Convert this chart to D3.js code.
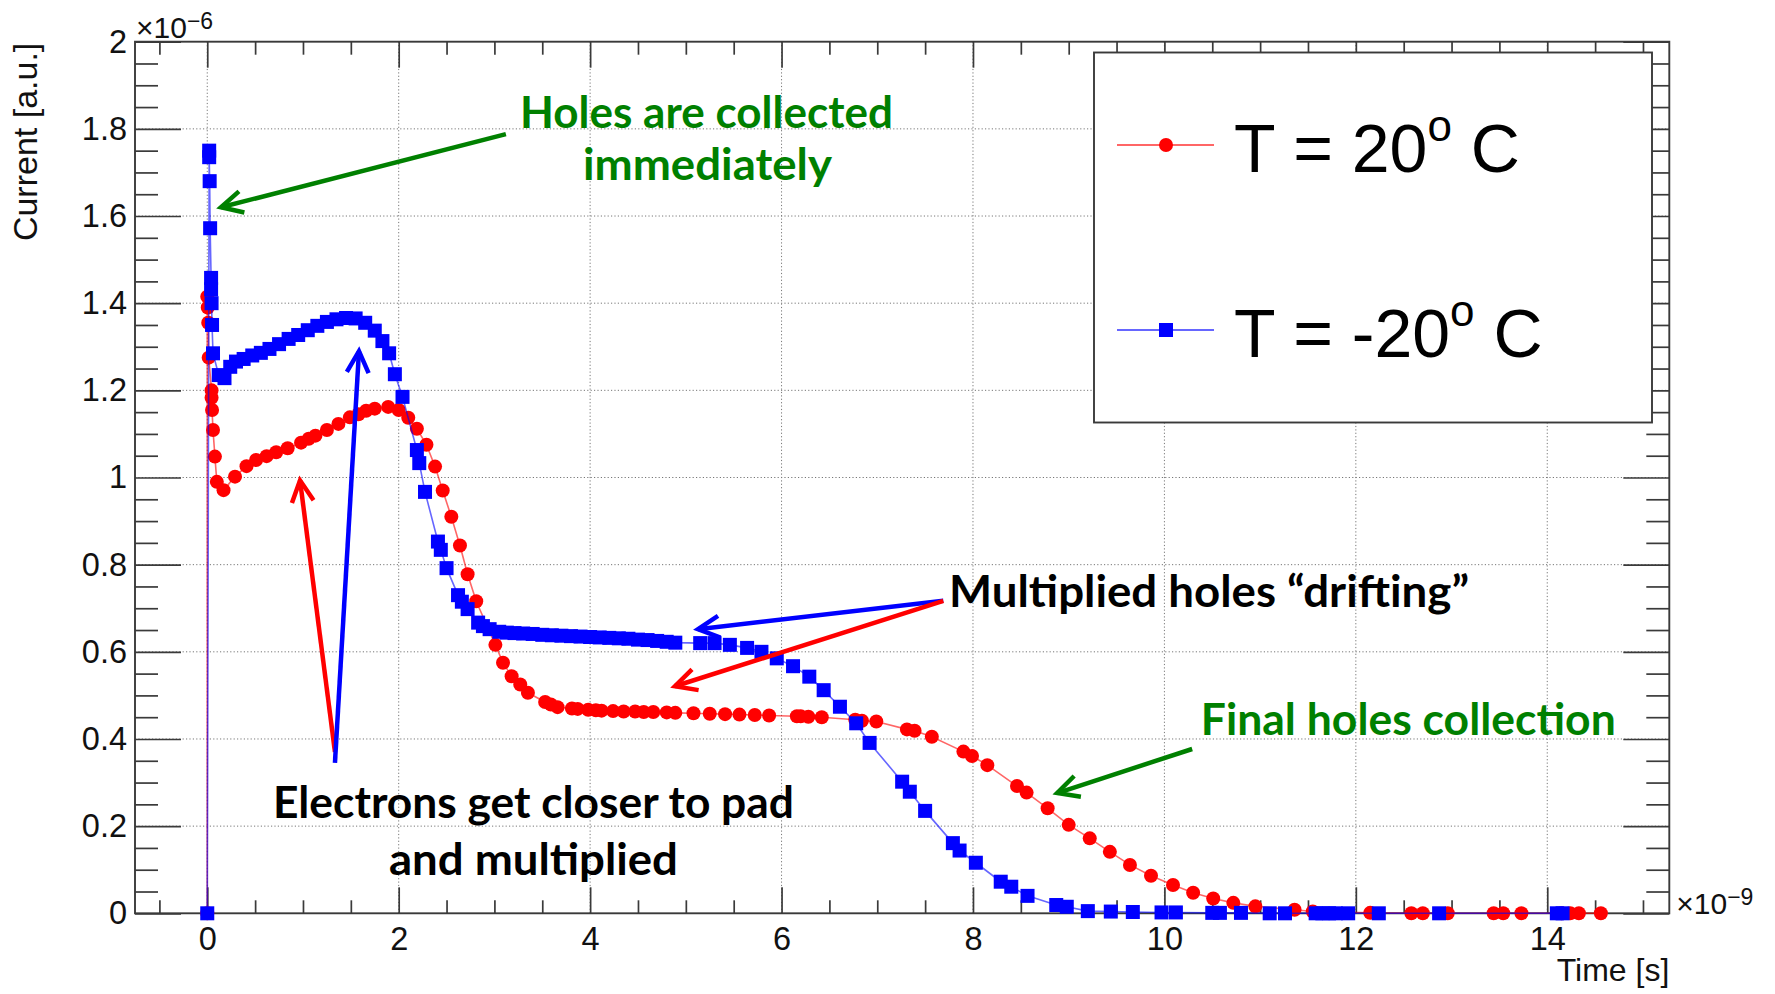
<!DOCTYPE html>
<html>
<head>
<meta charset="utf-8">
<script src="https://cdn.jsdelivr.net/npm/d3@7/dist/d3.min.js"></script>
<style>
  body { margin: 0; background: #fff; }
  svg { display: block; }
  text { white-space: pre; }
</style>
</head>
<body>
<div id="chart"></div>
<script>
// time in units of 1e-9 s, current in units of 1e-6 a.u.
const warmTime = [0, 0, 0.005, 0.01, 0.015, 0.045, 0.045, 0.05, 0.06, 0.08, 0.1, 0.17, 0.29, 0.41, 0.51, 0.62, 0.72, 0.84, 0.98, 1.06,
  1.13, 1.25, 1.37, 1.49, 1.58, 1.66, 1.75, 1.89, 2.0, 2.1, 2.19, 2.29, 2.38, 2.46, 2.55, 2.64, 2.72, 2.81, 3.01, 3.09,
  3.18, 3.27, 3.35, 3.53, 3.59, 3.66, 3.81, 3.87, 3.98, 4.06, 4.12, 4.24, 4.35, 4.47, 4.56, 4.66, 4.8, 4.89, 5.08, 5.25,
  5.41, 5.56, 5.72, 5.87, 6.16, 6.2, 6.28, 6.42, 6.77, 6.84, 6.99, 7.31, 7.39, 7.57, 7.9, 7.99, 8.15, 8.46, 8.56, 8.78,
  9.0, 9.22, 9.43, 9.64, 9.86, 10.09, 10.3, 10.51, 10.72, 10.95, 11.36, 11.55, 12.15, 12.58, 12.7, 12.96, 13.44, 13.54, 13.73, 14.15,
  14.24, 14.33, 14.56];
const warmCurrent = [0, 1.415, 1.39, 1.355, 1.275, 1.2, 1.183, 1.155, 1.109, 1.048, 0.99, 0.971, 1.002, 1.026, 1.04, 1.049, 1.058, 1.067, 1.08, 1.089,
  1.096, 1.109, 1.123, 1.138, 1.145, 1.153, 1.158, 1.162, 1.155, 1.137, 1.112, 1.075, 1.025, 0.97, 0.91, 0.844, 0.778, 0.716, 0.616, 0.575,
  0.544, 0.525, 0.506, 0.485, 0.479, 0.473, 0.47, 0.469, 0.467, 0.466, 0.465, 0.464, 0.463, 0.463, 0.462, 0.462, 0.461, 0.46, 0.459, 0.458,
  0.457, 0.456, 0.455, 0.454, 0.452, 0.452, 0.451, 0.45, 0.444, 0.442, 0.44, 0.422, 0.419, 0.405, 0.371, 0.361, 0.34, 0.292, 0.277, 0.241,
  0.203, 0.172, 0.141, 0.111, 0.086, 0.065, 0.047, 0.034, 0.024, 0.016, 0.008, 0.004, 0.001, 0, 0, 0, 0, 0, 0, 0,
  0, 0, 0];

const coldTime = [0, 0.02, 0.02, 0.025, 0.03, 0.04, 0.04, 0.045, 0.05, 0.06, 0.12, 0.18, 0.24, 0.3, 0.38, 0.47, 0.56, 0.65, 0.75, 0.85,
  0.95, 1.05, 1.15, 1.25, 1.35, 1.45, 1.55, 1.65, 1.75, 1.83, 1.9, 1.96, 2.04, 2.19, 2.215, 2.275, 2.41, 2.44, 2.5, 2.62,
  2.66, 2.72, 2.83, 2.88, 2.95, 3.05, 3.13, 3.21, 3.3, 3.4, 3.5, 3.6, 3.7, 3.8, 3.9, 4.0, 4.1, 4.2, 4.3, 4.4,
  4.5, 4.6, 4.7, 4.8, 4.89, 5.15, 5.3, 5.46, 5.64, 5.79, 5.95, 6.12, 6.29, 6.44, 6.61, 6.78, 6.92, 7.26, 7.34, 7.5,
  7.79, 7.86, 8.03, 8.29, 8.4, 8.57, 8.87, 8.98, 9.2, 9.44, 9.67, 9.97, 10.12, 10.5, 10.58, 10.8, 11.1, 11.26, 11.58, 11.65,
  11.72, 11.79, 11.92, 12.24, 12.87, 14.1, 14.16];
const coldCurrent = [0, 1.75, 1.735, 1.68, 1.572, 1.458, 1.432, 1.4, 1.35, 1.285, 1.235, 1.228, 1.254, 1.266, 1.272, 1.28, 1.286, 1.295, 1.306, 1.318,
  1.327, 1.338, 1.348, 1.357, 1.363, 1.366, 1.365, 1.355, 1.337, 1.313, 1.285, 1.237, 1.185, 1.063, 1.033, 0.967, 0.853, 0.834, 0.792, 0.73,
  0.715, 0.698, 0.667, 0.659, 0.652, 0.646, 0.644, 0.643, 0.642, 0.641, 0.639, 0.638, 0.637, 0.636, 0.635, 0.634, 0.633, 0.632, 0.631, 0.63,
  0.628, 0.627, 0.625, 0.623, 0.621, 0.62, 0.62, 0.616, 0.609, 0.6, 0.585, 0.567, 0.543, 0.512, 0.474, 0.436, 0.391, 0.302, 0.279, 0.235,
  0.161, 0.144, 0.116, 0.0725, 0.061, 0.04, 0.019, 0.015, 0.005, 0.004, 0.003, 0.002, 0.002, 0.001, 0.001, 0.001, 0, 0, 0, 0,
  0, 0, 0, 0, 0, 0, 0];

const xMajorTicks = [0, 2, 4, 6, 8, 10, 12, 14];
const yMajorTicks = [0, 0.2, 0.4, 0.6, 0.8, 1, 1.2, 1.4, 1.6, 1.8, 2];
const seriesNames = ["T = 20", "T = -20"];
const seriesColors = ["#ff0000", "#0000ff"];

const width = 1775;
const height = 994;
const frame = { left: 135, right: 1669.3, top: 41.7, bottom: 913.3 };
const axisColor = "#3a3a3a";

const svg = d3
  .select("#chart")
  .append("svg")
  .attr("width", width)
  .attr("height", height)
  .attr("font-family", "'Liberation Sans', Arial, sans-serif");

const x = d3.scaleLinear().domain([-0.755, 15.275]).range([frame.left, frame.right]);
const y = d3.scaleLinear().domain([0, 2]).range([frame.bottom, frame.top]);

const xMinorTicks = d3.range(-0.5, 15.3, 0.5).filter((t) => t % 2 !== 0);
const yMinorTicks = d3.range(0, 40).map((i) => i * 0.05).filter((v, i) => i % 4 !== 0);

//BEGIN: GRID
const grid = svg.append("g").attr("stroke", "#777").attr("stroke-width", 1).attr("stroke-dasharray", "1.2,2.2");
grid.selectAll("line.gx")
  .data(xMajorTicks)
  .join("line")
  .attr("class", "gx")
  .attr("x1", (d) => x(d))
  .attr("x2", (d) => x(d))
  .attr("y1", frame.top)
  .attr("y2", frame.bottom);
grid.selectAll("line.gy")
  .data(yMajorTicks.slice(1, -1))
  .join("line")
  .attr("class", "gy")
  .attr("x1", frame.left)
  .attr("x2", frame.right)
  .attr("y1", (d) => y(d))
  .attr("y2", (d) => y(d));
//END: GRID

//BEGIN: AXES
const styleAxis = (g) => {
  g.select(".domain").remove();
  g.selectAll(".tick line").attr("stroke", axisColor).attr("stroke-width", 1.7);
  g.selectAll("text").attr("fill", "#111").attr("font-size", 32.5);
};

// bottom
svg.append("g")
  .attr("transform", `translate(0,${frame.bottom})`)
  .call(d3.axisBottom(x).tickValues(xMinorTicks).tickSizeInner(-13).tickSizeOuter(0).tickFormat(""))
  .call(styleAxis);
svg.append("g")
  .attr("transform", `translate(0,${frame.bottom})`)
  .call(d3.axisBottom(x).tickValues(xMajorTicks).tickSizeInner(-26).tickSizeOuter(0).tickPadding(14).tickFormat(d3.format("~g")))
  .call(styleAxis);
// top
svg.append("g")
  .attr("transform", `translate(0,${frame.top})`)
  .call(d3.axisTop(x).tickValues(xMinorTicks).tickSizeInner(-13).tickSizeOuter(0).tickFormat(""))
  .call(styleAxis);
svg.append("g")
  .attr("transform", `translate(0,${frame.top})`)
  .call(d3.axisTop(x).tickValues(xMajorTicks).tickSizeInner(-26).tickSizeOuter(0).tickFormat(""))
  .call(styleAxis);
// left
svg.append("g")
  .attr("transform", `translate(${frame.left},0)`)
  .call(d3.axisLeft(y).tickValues(yMinorTicks).tickSizeInner(-23).tickSizeOuter(0).tickFormat(""))
  .call(styleAxis);
svg.append("g")
  .attr("transform", `translate(${frame.left},0)`)
  .call(d3.axisLeft(y).tickValues(yMajorTicks).tickSizeInner(-46).tickSizeOuter(0).tickPadding(8).tickFormat(d3.format("~g")))
  .call(styleAxis);
// right
svg.append("g")
  .attr("transform", `translate(${frame.right},0)`)
  .call(d3.axisRight(y).tickValues(yMinorTicks).tickSizeInner(-23).tickSizeOuter(0).tickFormat(""))
  .call(styleAxis);
svg.append("g")
  .attr("transform", `translate(${frame.right},0)`)
  .call(d3.axisRight(y).tickValues(yMajorTicks).tickSizeInner(-46).tickSizeOuter(0).tickFormat(""))
  .call(styleAxis);

svg.append("rect")
  .attr("x", frame.left)
  .attr("y", frame.top)
  .attr("width", frame.right - frame.left)
  .attr("height", frame.bottom - frame.top)
  .attr("fill", "none")
  .attr("stroke", axisColor)
  .attr("stroke-width", 1.9);

// axis titles and exponents
svg.append("text")
  .attr("transform", `translate(37,${frame.top + 1}) rotate(-90)`)
  .attr("text-anchor", "end")
  .attr("font-size", 34)
  .attr("fill", "#111")
  .text("Current [a.u.]");

svg.append("text")
  .attr("x", frame.right)
  .attr("y", 981)
  .attr("text-anchor", "end")
  .attr("font-size", 32)
  .attr("fill", "#111")
  .text("Time [s]");

const exponent = (px, py, power) => {
  const t = svg.append("text").attr("x", px).attr("y", py).attr("font-size", 30).attr("fill", "#111");
  t.append("tspan").text("\u00d710");
  t.append("tspan").attr("dy", -9).attr("font-size", 23).text("\u2212" + power);
};
exponent(frame.left + 1, 38, 6);
exponent(frame.right + 7, frame.bottom + 1, 9);
//END: AXES

//BEGIN: SERIES
const series = [
  { name: seriesNames[0], color: seriesColors[0], shape: "circle",
    points: warmTime.map((t, i) => ({ t: t, v: warmCurrent[i] })) },
  { name: seriesNames[1], color: seriesColors[1], shape: "square",
    points: coldTime.map((t, i) => ({ t: t, v: coldCurrent[i] })) },
];

const line = d3.line().x((d) => x(d.t)).y((d) => y(d.v));

const drawMarkers = (g, data, s) => {
  if (s.shape === "circle") {
    g.selectAll("circle")
      .data(data)
      .join("circle")
      .attr("cx", (d) => x(d.t))
      .attr("cy", (d) => y(d.v))
      .attr("r", 7)
      .attr("fill", s.color);
  } else {
    g.selectAll("rect")
      .data(data)
      .join("rect")
      .attr("x", (d) => x(d.t) - 7)
      .attr("y", (d) => y(d.v) - 7)
      .attr("width", 14)
      .attr("height", 14)
      .attr("fill", s.color);
  }
};

series.forEach((s) => {
  const g = svg.append("g");
  g.append("path")
    .datum(s.points)
    .attr("d", line)
    .attr("fill", "none")
    .attr("stroke", s.color)
    .attr("stroke-opacity", 0.6)
    .attr("stroke-width", 1.6);
  drawMarkers(g.append("g"), s.points, s);
});
//END: SERIES

//BEGIN: LEGEND
const legend = svg.append("g");
legend.append("rect")
  .attr("x", 1094)
  .attr("y", 52.5)
  .attr("width", 1652 - 1094)
  .attr("height", 422.5 - 52.5)
  .attr("fill", "#fff")
  .attr("stroke", axisColor)
  .attr("stroke-width", 1.9);

const legendRows = [145, 330];
series.forEach((s, i) => {
  const ly = legendRows[i];
  const g = legend.append("g");
  g.append("line")
    .attr("x1", 1117)
    .attr("x2", 1214)
    .attr("y1", ly)
    .attr("y2", ly)
    .attr("stroke", s.color)
    .attr("stroke-opacity", 0.6)
    .attr("stroke-width", 2);
  drawMarkers(g, [{ t: x.invert(1166), v: y.invert(ly) }], s);
  const t = g.append("text")
    .attr("x", 1234)
    .attr("y", ly + 26.7)
    .attr("font-size", 68)
    .attr("fill", "#000");
  t.append("tspan").text(s.name);
  t.append("tspan").attr("dy", -31).attr("font-size", 44).text("o");
  t.append("tspan").attr("dy", 31).attr("font-size", 68).text(" C");
});
//END: LEGEND

//BEGIN: ANNOTATIONS
// anchors in data units (time, current)
const arrows = [
  { color: "#008000", from: [3.12, 1.788], to: [0.143, 1.62] },
  { color: "#ff0000", from: [1.334, 0.37], to: [0.969, 0.9935] },
  { color: "#0000ff", from: [1.334, 0.345], to: [1.585, 1.29] },
  { color: "#0000ff", from: [7.69, 0.717], to: [5.127, 0.652] },
  { color: "#ff0000", from: [7.69, 0.717], to: [4.886, 0.521] },
  { color: "#008000", from: [10.29, 0.377], to: [8.88, 0.276] },
];

const notes = [
  { text: "Holes are collected", color: "#008000", at: [5.216, 1.802], anchor: "middle", len: 373 },
  { text: "immediately", color: "#008000", at: [5.226, 1.683], anchor: "middle", len: 249 },
  { text: "Electrons get closer to pad", color: "#000", at: [3.408, 0.2187], anchor: "middle", len: 521 },
  { text: "and multiplied", color: "#000", at: [3.408, 0.0879], anchor: "middle", len: 289 },
  { text: "Multiplied holes \u201cdrifting\u201d", color: "#000", at: [7.75, 0.7035], anchor: "start", len: 520 },
  { text: "Final holes collection", color: "#008000", at: [10.38, 0.409], anchor: "start", len: 415 },
];

const ann = svg.append("g");
arrows.forEach((a) => {
  const x0 = x(a.from[0]), y0 = y(a.from[1]);
  const x1 = x(a.to[0]), y1 = y(a.to[1]);
  const ang = Math.atan2(y0 - y1, x0 - x1);
  const head = 24, spread = (27 * Math.PI) / 180;
  const p1 = [x1 + head * Math.cos(ang - spread), y1 + head * Math.sin(ang - spread)];
  const p2 = [x1 + head * Math.cos(ang + spread), y1 + head * Math.sin(ang + spread)];
  ann.append("line")
    .attr("x1", x0).attr("y1", y0)
    .attr("x2", x1).attr("y2", y1)
    .attr("stroke", a.color)
    .attr("stroke-width", 4.5);
  ann.append("path")
    .attr("d", `M${p1[0]},${p1[1]}L${x1},${y1}L${p2[0]},${p2[1]}`)
    .attr("fill", "none")
    .attr("stroke", a.color)
    .attr("stroke-width", 4.5)
    .attr("stroke-linejoin", "miter");
});

notes.forEach((n) => {
  ann.append("text")
    .attr("x", x(n.at[0]))
    .attr("y", y(n.at[1]))
    .attr("text-anchor", n.anchor)
    .attr("font-family", "Lato, 'Open Sans', sans-serif")
    .attr("font-weight", 700)
    .attr("font-size", 44)
    .attr("fill", n.color)
    .attr("textLength", n.len)
    .attr("lengthAdjust", "spacingAndGlyphs")
    .text(n.text);
});
//END: ANNOTATIONS
</script>
</body>
</html>
